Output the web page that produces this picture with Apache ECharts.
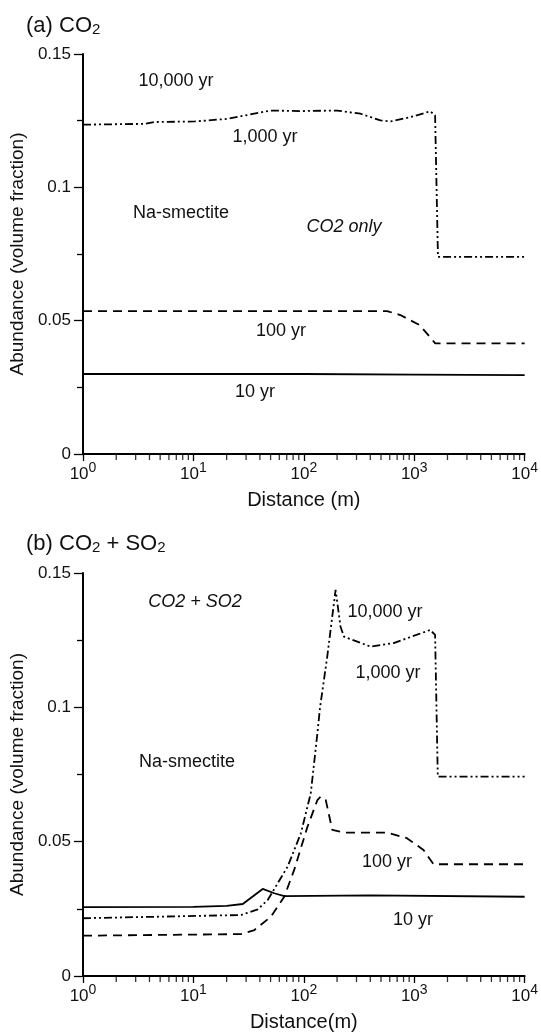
<!DOCTYPE html>
<html><head><meta charset="utf-8">
<script src="https://cdn.jsdelivr.net/npm/echarts@6/dist/echarts.min.js"></script>
<style>html,body{margin:0;padding:0;background:#fff}#c{width:541px;height:1035px}</style>
</head><body><div id="c"></div>
<script>
// ---- Panel (a) CO2 only ----
const a10X = [1, 10, 100, 1000, 10000];
const a10Y = [0.0300, 0.0300, 0.0300, 0.0298, 0.0296];
const a100X = [1, 10, 100, 567, 748, 1125, 1550, 10000];
const a100Y = [0.0536, 0.0536, 0.0536, 0.0536, 0.0521, 0.0483, 0.0415, 0.0415];
const a1000X = [1, 3.6, 4.5, 10.3, 20.5, 50, 94, 201, 326, 494, 608, 920, 1393, 1545, 1640, 10000];
const a1000Y = [0.1235, 0.1238, 0.1245, 0.1247, 0.1257, 0.1288, 0.1286, 0.1288, 0.1276, 0.1251, 0.1247, 0.1263, 0.1285, 0.1270, 0.0739, 0.0739];
// ---- Panel (b) CO2 + SO2 ----
const b10X = [1, 10, 20, 28, 42.4, 54, 66.5, 400, 10000];
const b10Y = [0.0256, 0.0257, 0.0261, 0.0268, 0.0324, 0.0308, 0.0297, 0.0300, 0.0295];
const b100X = [1, 27, 35.7, 50.4, 66.5, 81.8, 108, 132.8, 142, 158, 181, 231, 567, 859, 1213, 1494, 10000];
const b100Y = [0.0150, 0.0156, 0.0171, 0.0221, 0.0295, 0.0395, 0.0556, 0.0655, 0.0668, 0.0655, 0.0544, 0.0534, 0.0534, 0.0513, 0.0469, 0.0416, 0.0416];
const b1000X = [1, 27, 38.3, 47.1, 71.3, 94, 115.6, 132.8, 140, 163, 194, 215, 231, 402, 651, 1393, 1545, 1634, 10000];
const b1000Y = [0.0215, 0.0227, 0.0248, 0.0283, 0.0407, 0.0531, 0.0680, 0.0904, 0.0997, 0.1189, 0.1437, 0.1300, 0.1263, 0.1226, 0.1239, 0.1288, 0.1270, 0.0742, 0.0742];
// ---- ticks ----
const yTickLabels = {'0': '0', '0.05': '0.05', '0.1': '0.1', '0.15': '0.15'};
const xMinorTicks = [2,3,4,5,6,7,8,9,20,30,40,50,60,70,80,90,200,300,400,500,600,700,800,900,2000,3000,4000,5000,6000,7000,8000,9000];

const FONT = '"Liberation Sans", Arial, Helvetica, sans-serif';
const zip = (xs, ys) => xs.map((x, i) => [x, ys[i]]);
const dashDot2 = [8, 3, 2, 3, 2, 3];

function xAxisCfg(gi, name) {
  return {
    type: 'log', logBase: 10, min: 1, max: 10000, gridIndex: gi,
    name: name, nameLocation: 'middle', nameGap: 36,
    nameTextStyle: {fontFamily: FONT, fontSize: 20, color: '#111'},
    axisLine: {lineStyle: {color: '#000', width: 2}},
    axisTick: {length: 7, lineStyle: {color: '#000', width: 1.3}},
    splitLine: {show: false},
    axisLabel: {
      margin: 7, color: '#111',
      formatter: v => '{b|10}{s|' + Math.round(Math.log10(v)) + '}',
      rich: {
        b: {fontFamily: FONT, fontSize: 17, lineHeight: 22, verticalAlign: 'bottom', color: '#111'},
        s: {fontFamily: FONT, fontSize: 14, lineHeight: 22, verticalAlign: 'top', color: '#111'}
      }
    }
  };
}
function yAxisCfg(gi) {
  return {
    type: 'value', min: 0, max: 0.15, interval: 0.05, gridIndex: gi,
    name: 'Abundance (volume fraction)', nameLocation: 'middle', nameGap: 54,
    nameTextStyle: {fontFamily: FONT, fontSize: 19, color: '#111'},
    axisLine: {show: true, lineStyle: {color: '#000', width: 2}},
    axisTick: {show: true, length: 9, lineStyle: {color: '#000', width: 1.3}},
    minorTick: {show: true, splitNumber: 2, length: 6, lineStyle: {color: '#000', width: 1.3}},
    splitLine: {show: false},
    axisLabel: {
      margin: 12, fontFamily: FONT, fontSize: 17, color: '#111',
      formatter: v => yTickLabels[String(+v.toFixed(3))] || ''
    }
  };
}
function line(xs, ys, gi, type, w) {
  return {
    type: 'line', xAxisIndex: gi, yAxisIndex: gi, data: zip(xs, ys),
    showSymbol: false, symbol: 'none', smooth: false, silent: true,
    lineStyle: {color: '#000', width: w || 1.8, type: type}
  };
}
function minorTicks(gi) {
  return {
    type: 'scatter', xAxisIndex: gi, yAxisIndex: gi, silent: true, clip: false,
    data: xMinorTicks.map(x => [x, 0]), symbol: 'rect', symbolSize: [1.3, 5], symbolOffset: [0, 3.5],
    itemStyle: {color: '#000'}
  };
}
function txt(text, x, y, opt) {
  opt = opt || {};
  return {type: 'text', x: x, y: y, silent: true, style: {
    text: text, fill: '#111', align: 'center', verticalAlign: 'middle',
    font: (opt.italic ? 'italic ' : '') + (opt.size || 18) + 'px ' + FONT
  }};
}
const titleRich = {
  a: {fontFamily: FONT, fontSize: 22, fontWeight: 'normal', color: '#111', lineHeight: 26, verticalAlign: 'bottom'},
  s: {fontFamily: FONT, fontSize: 15, fontWeight: 'normal', color: '#111', lineHeight: 21, verticalAlign: 'bottom'}
};

const chart = echarts.init(document.getElementById('c'), null, {renderer: 'canvas'});
chart.setOption({
  animation: false,
  backgroundColor: '#fff',
  title: [
    {text: '{a|(a) CO}{s|2}', left: 21, top: 6, textStyle: {fontWeight: 'normal', rich: titleRich}},
    {text: '{a|(b) CO}{s|2}{a| + SO}{s|2}', left: 21, top: 524, textStyle: {fontWeight: 'normal', rich: titleRich}}
  ],
  grid: [
    {left: 81, top: 54, width: 444, height: 400},
    {left: 81, top: 573, width: 444, height: 403}
  ],
  xAxis: [xAxisCfg(0, 'Distance (m)'), xAxisCfg(1, 'Distance(m)')],
  yAxis: [yAxisCfg(0), yAxisCfg(1)],
  series: [
    line(a10X, a10Y, 0, 'solid'),
    line(a100X, a100Y, 0, [9, 6]),
    line(a1000X, a1000Y, 0, dashDot2),
    line(b10X, b10Y, 1, 'solid'),
    line(b100X, b100Y, 1, [9, 6]),
    line(b1000X, b1000Y, 1, dashDot2),
    minorTicks(0), minorTicks(1)
  ],
  graphic: [
    txt('10,000 yr', 176, 81),
    txt('1,000 yr', 265, 137),
    txt('Na-smectite', 181, 213),
    txt('CO2 only', 344, 227, {italic: true}),
    txt('100 yr', 281, 331),
    txt('10 yr', 255, 392),
    txt('CO2 + SO2', 195, 602, {italic: true}),
    txt('10,000 yr', 385, 612),
    txt('1,000 yr', 388, 673),
    txt('Na-smectite', 187, 762),
    txt('100 yr', 387, 862),
    txt('10 yr', 413, 920)
  ]
});
</script></body></html>
